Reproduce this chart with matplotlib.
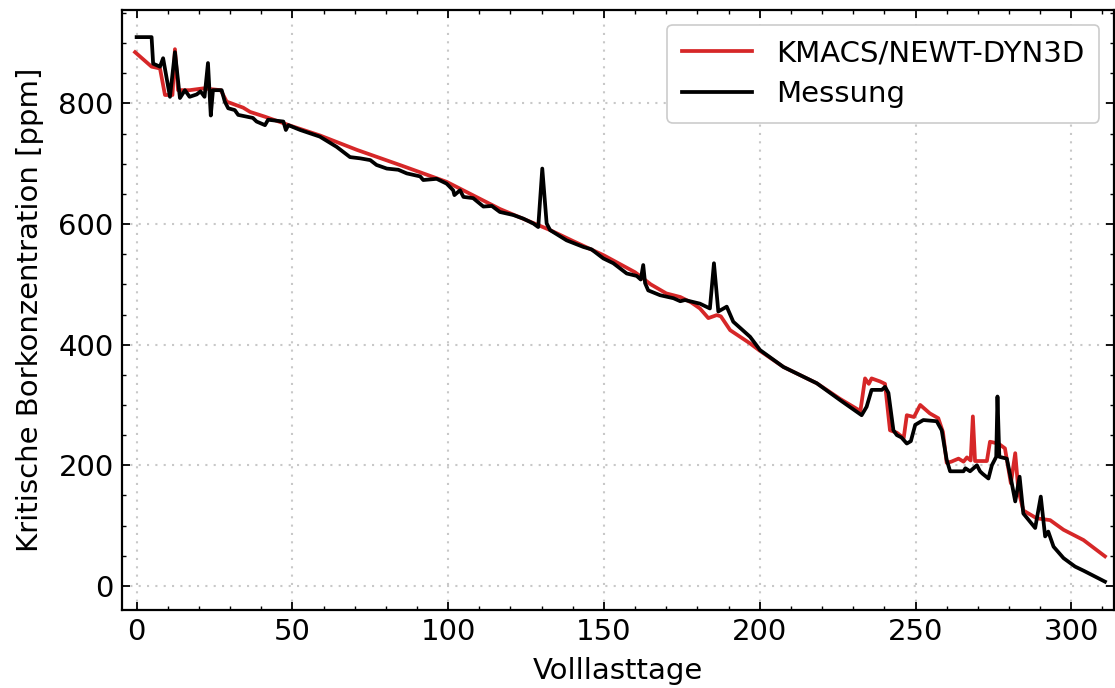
import numpy as np
import matplotlib
matplotlib.use("Agg")
import matplotlib.pyplot as plt
from matplotlib.ticker import MultipleLocator, AutoMinorLocator

# Messung (measured critical boron concentration)
mess_x = [0, 4.8, 5.3, 7.5, 8.5, 10.7, 12.3, 13.9, 15.5, 17, 19.3, 20.5, 21.8, 22.9, 23.8,
          24.5, 27.3, 28.3, 29.4, 31.5, 32.6, 37.3, 38.5, 41.2, 42.2, 47.1, 47.9, 48.7, 52.5,
          58.8, 64.2, 68.5, 71.7, 75, 77, 80.3, 84, 86.7, 91, 92, 96.3, 99.5, 101.6, 102,
          103.8, 104.9, 108, 111.3, 114, 116.6, 120.9, 124.1, 127.3, 128.9, 130.2, 131.6,
          132.7, 138, 143.4, 146, 149.8, 153, 157.3, 160.5, 161.8, 162.6, 163.2, 164.2, 168,
          172.3, 174.5, 176, 180.8, 184, 185.3, 186.7, 189.4, 191.5, 196.9, 200.1, 207.6,
          218.3, 225.8, 232.7, 234.3, 235.9, 239.2, 240.2, 241.3, 242.9, 244, 245.5, 247.2,
          248.5, 249.9, 252.5, 256.8, 258.4, 260, 261.1, 265.4, 266, 267.5, 269.7, 270.7,
          271.5, 273.4, 274.5, 275.9, 276.3, 276.9, 279.3, 280.9, 282, 283.4, 284.6, 288.4,
          290.2, 291.6, 292.6, 294.3, 297.5, 301.2, 304, 310.8]
mess_y = [910, 910, 866, 861, 875, 811, 885, 809, 822, 811, 815, 820, 811, 867, 780,
          822, 822, 803, 792, 789, 781, 776, 770, 764, 773, 770, 756, 764, 756,
          745, 728, 711, 709, 706, 698, 692, 690, 684, 679, 673, 675, 667, 656, 648,
          656, 645, 643, 629, 630, 620, 615, 609, 601, 595, 692, 601,
          590, 573, 562, 558, 543, 535, 518, 514, 508, 532, 502, 490, 482,
          477, 472, 474, 468, 460, 535, 455, 463, 438, 413, 391, 363,
          336, 308, 283, 297, 325, 325, 330, 320, 258, 250, 246, 236,
          240, 267, 275, 273, 258, 209, 190, 190, 195, 190, 200, 190,
          186, 178, 200, 214, 314, 214, 211, 170, 140, 181, 120, 96,
          148, 82, 90, 65, 46, 32, 25, 7]

# KMACS/NEWT-DYN3D (calculated)
calc_x = [-0.5, 4.8, 7.5, 9.1, 11.5, 12.3, 13.3, 17, 21.4, 27, 28.9, 34.2, 36.4, 41.2, 50,
          58.8, 70.7, 85, 99.5, 116.6, 132.7, 140, 150, 160, 165, 170, 174.5, 178, 180.8,
          183.5, 186.2, 187.5, 190.5, 196.9, 200, 207.6, 218.3, 225.8, 232.3, 233.8, 235,
          235.9, 238.6, 240.2, 241.8, 244, 246.2, 247.2, 249.5, 251.5, 254.6, 257.3, 258.8,
          260, 261.5, 263.8, 265.4, 266.5, 267.7, 268.4, 269.1, 272.9, 273.9, 276.6, 278.7,
          280.6, 282, 283, 284.6, 288.9, 293.2, 294.8, 297.5, 303.9, 310.8]
calc_y = [885, 861, 858, 814, 814, 890, 822, 822, 825, 822, 803, 793, 786, 778, 762,
          747, 723, 697, 670, 625, 590, 572, 548, 520, 500, 485, 479, 470, 460,
          444, 449, 447, 424, 402, 390, 363, 336, 310, 290, 344, 335,
          344, 339, 335, 258, 254, 245, 283, 280, 300, 286, 278, 255,
          204, 206, 211, 206, 213, 208, 281, 207, 207, 239, 236, 228,
          170, 220, 159, 125, 112, 109, 103, 93, 76, 49]

plt.rcParams['font.family'] = ['DejaVu Sans']

fig = plt.figure(figsize=(11.15, 6.88), dpi=100)
ax = fig.add_axes([0.1094, 0.1134, 0.8897, 0.8721])

ax.plot(calc_x, calc_y, color='#d62728', lw=2.7, label='KMACS/NEWT-DYN3D')
ax.plot(mess_x, mess_y, color='black', lw=2.7, label='Messung')

ax.set_xlim(-4.7, 313.7)
ax.set_ylim(-40, 955)
ax.xaxis.set_major_locator(MultipleLocator(50))
ax.xaxis.set_minor_locator(AutoMinorLocator(5))
ax.yaxis.set_major_locator(MultipleLocator(200))
ax.yaxis.set_minor_locator(AutoMinorLocator(4))

ax.tick_params(which='both', direction='in', top=True, right=True, labelsize=21)
ax.tick_params(which='major', length=6, width=1.3, pad=6)
ax.tick_params(which='minor', length=3, width=1.0)
for s in ax.spines.values():
    s.set_linewidth(1.6)

ax.grid(True, which='major', linestyle=(0, (1, 3)), color='#c8c8c8', lw=1.5)

ax.set_xlabel('Volllasttage', fontsize=21, labelpad=8)
ax.set_ylabel('Kritische Borkonzentration [ppm]', fontsize=21, labelpad=10)

leg = ax.legend(loc='upper right', fontsize=21, handlelength=2.4, framealpha=1,
                edgecolor='#cccccc', borderpad=0.5, labelspacing=0.45,
                handletextpad=0.85, borderaxespad=0.5)
leg.get_frame().set_linewidth(1.2)

fig.savefig('out.png', dpi=100)
